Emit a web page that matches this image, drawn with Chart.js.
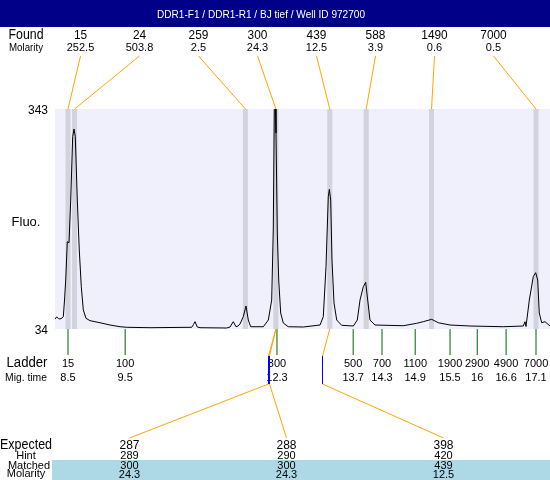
<!DOCTYPE html>
<html>
<head>
<meta charset="utf-8">
<script src="https://cdn.jsdelivr.net/npm/chart.js@4"></script>
<style>
html, body { margin: 0; padding: 0; background: #fff; }
canvas { display: block; }
</style>
</head>
<body>
<canvas id="gel" width="550" height="480"></canvas>
<script>
const title = 'DDR1-F1 / DDR1-R1 / BJ tief / Well ID 972700';

// electropherogram trace (migration time s, fluorescence)
const traceTime = [8.261, 8.292, 8.325, 8.353, 8.390, 8.414, 8.436, 8.458, 8.487, 8.518,
  8.550, 8.586, 8.610, 8.634, 8.671, 8.707, 8.744, 8.781, 8.831, 8.904,
  9.088, 9.272, 9.456, 9.579, 10.007, 10.773, 10.806, 10.834, 10.876, 10.926,
  11.416, 11.477, 11.537, 11.587, 11.624, 11.661, 11.721, 11.771, 11.813, 11.857,
  12.089, 12.181, 12.243, 12.272, 12.291, 12.309, 12.322, 12.346, 12.372, 12.408,
  12.456, 12.548, 12.824, 13.131, 13.191, 13.241, 13.283, 13.302, 13.327, 13.351,
  13.388, 13.438, 13.529, 13.743, 13.816, 13.866, 13.926, 13.970, 14.007, 14.049,
  14.141, 14.661, 14.908, 15.029, 15.183, 15.304, 15.519, 15.887, 16.499, 16.866,
  16.898, 16.916, 16.977, 17.050, 17.094, 17.131, 17.160, 17.204, 17.265, 17.357];
const traceFluo = [48.0, 50.9, 48.7, 48.0, 49.4, 51.3, 74.7, 102.8, 156.6, 155.2,
  215.2, 304.1, 314.9, 304.1, 215.2, 145.0, 93.4, 60.7, 49.0, 45.7,
  42.8, 39.6, 37.2, 36.4, 35.8, 36.4, 40.3, 44.3, 36.8, 35.8,
  35.4, 36.8, 44.3, 37.2, 38.2, 41.0, 51.3, 66.3, 46.6, 37.2,
  37.2, 46.6, 74.7, 173.0, 341.6, 355.6, 309.3, 168.8, 102.8, 56.5,
  42.4, 37.2, 36.8, 39.6, 51.3, 121.5, 219.8, 230.2, 215.2, 130.9,
  70.5, 46.6, 39.2, 38.2, 46.6, 74.7, 93.4, 99.6, 74.7, 46.6,
  39.6, 38.6, 42.0, 44.3, 47.6, 42.8, 39.6, 38.2, 37.2, 38.2,
  44.3, 37.5, 74.7, 107.5, 113.1, 102.8, 56.5, 42.8, 44.3, 38.2];

const yTicks = [34, 343];

// found peaks
const foundSize = ['15', '24', '259', '300', '439', '588', '1490', '7000'];
const foundMolarity = ['252.5', '503.8', '2.5', '24.3', '12.5', '3.9', '0.6', '0.5'];
const foundTime = [8.50, 8.62, 11.76, 12.32, 13.31, 13.98, 15.18, 17.10];

// ladder
const ladderSize = ['15', '100', '300', '500', '700', '1100', '1900', '2900', '4900', '7000'];
const ladderMig = ['8.5', '9.5', '12.3', '13.7', '14.3', '14.9', '15.5', '16', '16.6', '17.1'];
const ladderTime = [8.50, 9.55, 12.34, 13.74, 14.27, 14.88, 15.52, 16.02, 16.55, 17.10];

// expected fragments
const expectedSize = ['287', '288', '398'];
const expectedHint = ['289', '290', '420'];
const matchedSize = ['300', '300', '439'];
const matchedMolarity = ['24.3', '24.3', '12.5'];
const expectedTime = [12.18, 12.20, 13.17];
const matchedPeak = [3, 3, 4]; // index into foundTime

const FONT = '"Liberation Sans", Arial, sans-serif';

function text(ctx, s, x, y, size, align, color, maxW) {
  ctx.font = size + 'px ' + FONT;
  ctx.textAlign = align || 'center';
  ctx.textBaseline = 'alphabetic';
  ctx.fillStyle = color || '#000';
  if (maxW) ctx.fillText(s, x, y, maxW);
  else ctx.fillText(s, x, y);
}
function line(ctx, x1, y1, x2, y2, color, w) {
  ctx.strokeStyle = color;
  ctx.lineWidth = w || 1;
  ctx.beginPath();
  ctx.moveTo(x1, y1);
  ctx.lineTo(x2, y2);
  ctx.stroke();
}

const overlay = {
  id: 'overlay',
  beforeDatasetsDraw(chart) {
    const { ctx, chartArea: a, scales: { x } } = chart;
    ctx.save();
    ctx.fillStyle = '#000088';
    ctx.fillRect(0, 0, chart.width, 27);
    ctx.fillStyle = '#f0f0fc';
    ctx.fillRect(a.left, a.top, a.right - a.left, a.bottom - a.top);
    ctx.fillStyle = '#d3d3e0';
    foundTime.forEach(t => {
      const px = x.getPixelForValue(t);
      ctx.fillRect(px - 2.5, a.top, 5, a.bottom - a.top);
    });
    ctx.restore();
  },
  afterDatasetsDraw(chart) {
    const { ctx, chartArea: a, scales: { x, y } } = chart;
    const colL = 51, foundW = 59, expW = 157;
    ctx.save();

    text(ctx, title, 261, 18, 11, 'center', '#fff', 208);

    // found peaks
    text(ctx, 'Found', 26, 39, 14, 'center', '#000', 35);
    text(ctx, 'Molarity', 26, 51, 11, 'center', '#000', 34);
    foundSize.forEach((s, i) => {
      const cx = colL + foundW * (i + 0.5);
      text(ctx, s, cx, 39, 13, 'center', '#000', s.length * 6.6);
      text(ctx, foundMolarity[i], cx, 51, 11);
      line(ctx, cx, 56, x.getPixelForValue(foundTime[i]), a.top, '#ffa500');
    });

    // y labels
    yTicks.forEach(v => text(ctx, String(v), 48, y.getPixelForValue(v) + 5, 12, 'right'));
    text(ctx, 'Fluo.', 26, 226, 13);

    // ladder
    text(ctx, 'Ladder', 27, 367, 14, 'center', '#000', 41);
    text(ctx, 'Mig. time', 26, 381, 11, 'center', '#000', 42);
    ladderSize.forEach((s, i) => {
      const px = x.getPixelForValue(ladderTime[i]);
      line(ctx, px, a.bottom, px, a.bottom + 26, '#006400');
      text(ctx, s, px, 367, 11);
      text(ctx, ladderMig[i], px, 381, 11);
    });

    // expected -> matched connectors
    expectedSize.forEach((s, i) => {
      const ex = Math.round(x.getPixelForValue(expectedTime[i])) + 0.5;
      const mx = x.getPixelForValue(foundTime[matchedPeak[i]]);
      const cx = colL + expW * (i + 0.5);
      line(ctx, ex, 356, mx, a.bottom, '#ffa500');
      line(ctx, ex, 384, cx, 438, '#ffa500');
      line(ctx, ex, 356, ex, 384, '#0000ff');
    });

    // expected table
    ctx.fillStyle = '#add8e6';
    ctx.fillRect(52, 460, chart.width - 52, 20);
    text(ctx, 'Expected', 26, 449, 14, 'center', '#000', 52);
    text(ctx, 'Hint', 26, 459, 11);
    text(ctx, 'Matched', 29, 469, 11);
    text(ctx, 'Molarity', 26, 477, 11);
    expectedSize.forEach((s, i) => {
      const cx = colL + expW * (i + 0.5);
      text(ctx, s, cx, 449, 13, 'center', '#000', 20);
      text(ctx, expectedHint[i], cx, 459, 11);
      text(ctx, matchedSize[i], cx, 469, 11);
      text(ctx, matchedMolarity[i], cx, 478, 11);
    });
    ctx.restore();
  }
};

new Chart(document.getElementById('gel'), {
  type: 'line',
  data: {
    datasets: [{
      data: traceTime.map((t, i) => ({ x: t, y: traceFluo[i] })),
      borderColor: '#000',
      borderWidth: 1,
      pointRadius: 0,
      tension: 0,
      fill: false
    }]
  },
  options: {
    responsive: false,
    animation: false,
    devicePixelRatio: 1,
    layout: { padding: { left: 55, right: 0, top: 109, bottom: 151 } },
    scales: {
      x: { type: 'linear', min: 8.261, max: 17.357, display: false },
      y: { min: 34, max: 343, display: false }
    },
    plugins: { legend: { display: false }, tooltip: { enabled: false } }
  },
  plugins: [overlay]
});
</script>
</body>
</html>
